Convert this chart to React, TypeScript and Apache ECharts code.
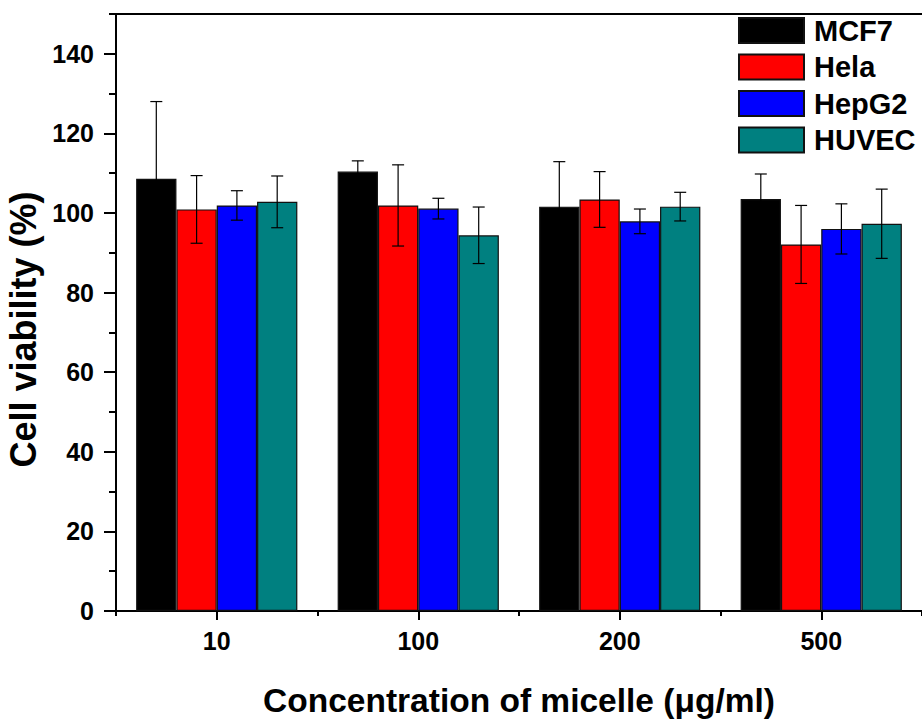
import React, { useEffect, useRef } from "react";
import * as echarts from "echarts";

const categories = ["10", "100", "200", "500"];
const seriesNames = ["MCF7", "Hela", "HepG2", "HUVEC"];
const mcf7 = [108.6, 110.4, 101.6, 103.5];
const mcf7Err = [19.4, 2.7, 11.3, 6.3];
const hela = [100.9, 101.9, 103.4, 92.1];
const helaErr = [8.5, 10.2, 7.0, 9.8];
const hepg2 = [101.9, 101.1, 97.9, 96.0];
const hepg2Err = [3.7, 2.6, 3.1, 6.3];
const huvec = [102.8, 94.4, 101.6, 97.3];
const huvecErr = [6.5, 7.1, 3.6, 8.7];
const colors = ["#000000", "#ff0000", "#0000ff", "#008080"];
const majorTicks = [0, 20, 40, 60, 80, 100, 120, 140];
const minorTicks = [10, 30, 50, 70, 90, 110, 130, 150];

const FONT = "'Liberation Sans', Arial, sans-serif";

export default function App() {
  const ref = useRef<HTMLDivElement>(null);
  useEffect(() => {
    if (!ref.current) return;
    const chart = echarts.init(ref.current, null, { renderer: "svg" });
    const values = [mcf7, hela, hepg2, huvec];
    const errs = [mcf7Err, helaErr, hepg2Err, huvecErr];
    const barSeries = values.map((vals, k) => ({
      name: seriesNames[k],
      type: "bar",
      xAxisIndex: 0,
      yAxisIndex: 0,
      data: vals,
      barGap: "0%",
      barCategoryGap: "20%",
      itemStyle: { color: colors[k], borderColor: "#111", borderWidth: 1.2 },
      z: 2,
    }));
    const errSeries = values.map((vals, k) => ({
      name: seriesNames[k] + " error",
      type: "custom",
      xAxisIndex: 0,
      yAxisIndex: 0,
      z: 5,
      data: vals.map((v, i) => [i, v, errs[k][i]]),
      renderItem: (params: any, api: any) => {
        const ci = api.value(0);
        const v = api.value(1);
        const e = api.value(2);
        const band = api.size([1, 0])[0];
        const bw = (band * 0.8) / 4;
        const cx = api.coord([ci, v])[0] + (k - 1.5) * bw;
        const top = api.coord([ci, v + e])[1];
        const bot = api.coord([ci, v - e])[1];
        const half = 6;
        const style = { stroke: "#000", lineWidth: 1.2 };
        return {
          type: "group",
          children: [
            { type: "line", shape: { x1: cx, y1: top, x2: cx, y2: bot }, style },
            { type: "line", shape: { x1: cx - half, y1: top, x2: cx + half, y2: top }, style },
            { type: "line", shape: { x1: cx - half, y1: bot, x2: cx + half, y2: bot }, style },
          ],
        };
      },
    }));
    chart.setOption({
      animation: false,
      backgroundColor: "#ffffff",
      textStyle: { fontFamily: FONT },
      grid: {
        left: 116,
        right: 0,
        top: 14,
        bottom: 108,
        containLabel: false,
        outerBoundsMode: "none",
      },
      legend: {
        data: seriesNames,
        orient: "vertical",
        left: 733,
        top: 10,
        itemWidth: 65,
        itemHeight: 25,
        itemGap: 5.5,
        icon: "rect",
        textStyle: {
          fontSize: 29,
          fontWeight: "bold",
          fontFamily: FONT,
          color: "#000",
          padding: [0, 0, 0, 5],
          lineHeight: 31,
        },
      },
      xAxis: [
        {
          type: "category",
          data: categories,
          position: "bottom",
          gridIndex: 0,
          axisLine: { show: true, lineStyle: { color: "#000", width: 2 } },
          axisTick: { show: true, alignWithLabel: true, length: 9, lineStyle: { color: "#000", width: 2 } },
          axisLabel: { fontSize: 25, fontWeight: "bold", color: "#000", margin: 17, fontFamily: FONT },
          splitLine: { show: false },
          name: "Concentration of micelle (\u03bcg/ml)",
          nameLocation: "middle",
          nameGap: 72,
          nameTextStyle: { fontSize: 33.5, fontWeight: "bold", color: "#000", fontFamily: FONT },
        },
        {
          type: "category",
          data: categories,
          position: "bottom",
          gridIndex: 0,
          axisLine: { show: false },
          axisTick: { show: true, alignWithLabel: false, length: 5, lineStyle: { color: "#000", width: 2 } },
          axisLabel: { show: false },
          splitLine: { show: false },
        },
        {
          type: "category",
          data: categories,
          position: "top",
          gridIndex: 0,
          axisLine: { show: true, lineStyle: { color: "#000", width: 2 } },
          axisTick: { show: false },
          axisLabel: { show: false },
          splitLine: { show: false },
        },
      ],
      yAxis: [
        {
          type: "value",
          min: 0,
          max: 150,
          interval: 10,
          position: "left",
          gridIndex: 0,
          axisLine: { show: true, lineStyle: { color: "#000", width: 2 } },
          axisTick: { show: true, customValues: majorTicks, length: 12, lineStyle: { color: "#000", width: 2 } },
          axisLabel: {
            customValues: majorTicks,
            fontSize: 25,
            fontWeight: "bold",
            color: "#000",
            margin: 22,
            fontFamily: FONT,
          },
          splitLine: { show: false },
          name: "Cell viability (%)",
          nameLocation: "middle",
          nameGap: 68,
          nameRotate: 90,
          nameTextStyle: {
            fontSize: 36,
            fontWeight: "bold",
            color: "#000",
            fontFamily: FONT,
            padding: [0, 34, 0, 0],
          },
        },
        {
          type: "value",
          min: 0,
          max: 150,
          interval: 10,
          position: "left",
          gridIndex: 0,
          axisLine: { show: false },
          axisTick: { show: true, customValues: minorTicks, length: 7, lineStyle: { color: "#000", width: 2 } },
          axisLabel: { show: false, customValues: minorTicks },
          splitLine: { show: false },
        },
      ],
      series: [...barSeries, ...errSeries],
    });
    return () => chart.dispose();
  }, []);
  return (
    <div
      ref={ref}
      style={{ position: "absolute", left: 0, top: 0, width: 922, height: 719 }}
    />
  );
}
